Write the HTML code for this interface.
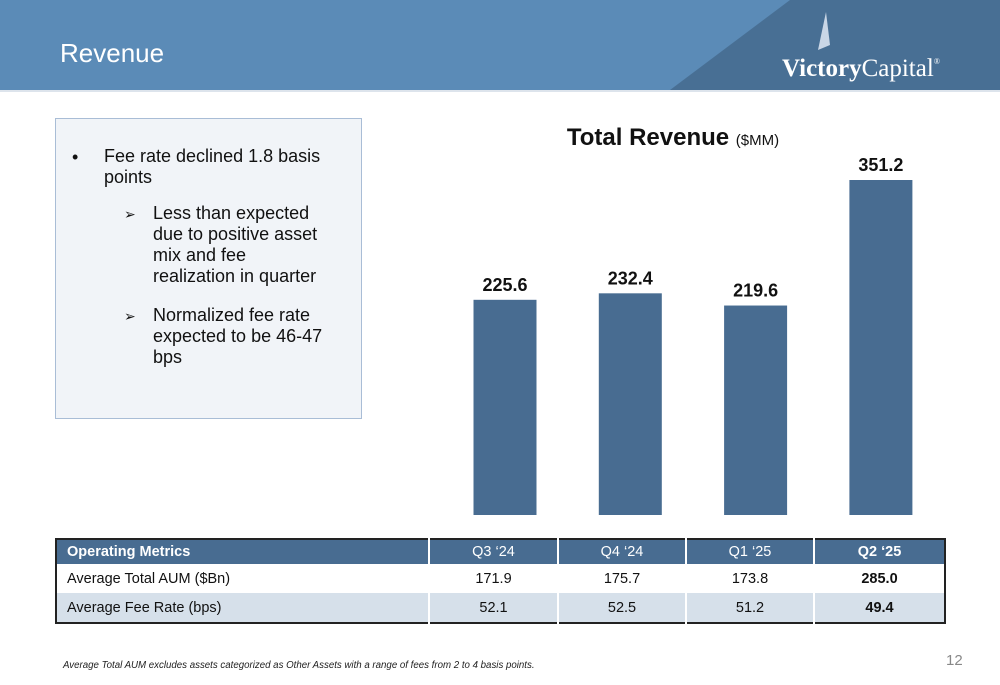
<!DOCTYPE html>
<html><head><meta charset="utf-8"><style>
body{margin:0;width:1000px;height:685px;position:relative;background:#fff;font-family:"Liberation Sans",Arial,sans-serif;overflow:hidden}
.abs{position:absolute}
table{border-collapse:collapse;position:absolute;left:55px;top:538px;width:891px;border:2px solid #222;font-size:14.5px}
td{padding:0 10px;border-left:2px solid #fff;text-align:center;color:#111}
td:first-child{text-align:left;border-left:none}
tr.h td{background:#486c91;color:#fff;height:24px}
tr.r1 td,tr.r2 td{height:29px}
tr.r2 td{background:#d6e0ea}
</style></head><body>
<svg class="abs" style="left:0;top:0" width="1000" height="92">
<rect width="1000" height="90" fill="#5b8bb7"/>
<polygon points="790,0 1000,0 1000,90 670,90" fill="#486f94"/>
<rect y="90" width="1000" height="2" fill="#dde4ec"/>
<polygon points="826,12 818,50 830,45" fill="#c9d6e6"/>
<text x="60" y="62" font-size="26" fill="#fff" font-family="Liberation Sans">Revenue</text>
<text x="782" y="76" font-size="25" fill="#fff" font-family="Liberation Serif"><tspan font-weight="bold">Victory</tspan><tspan>Capital</tspan><tspan font-size="8" dy="-12">®</tspan></text>
</svg>
<div class="abs" style="left:55px;top:118px;width:305px;height:299px;background:#f1f4f8;border:1px solid #a9bdd6;font-size:18px;color:#111;line-height:21px">
<div class="abs" style="left:16px;top:28px">•</div>
<div class="abs" style="left:48px;top:27px;width:245px">Fee rate declined 1.8 basis points</div>
<div class="abs" style="left:68px;top:85px;font-size:14px">➢</div>
<div class="abs" style="left:97px;top:84px;width:180px">Less than expected due to positive asset mix and fee realization in quarter</div>
<div class="abs" style="left:68px;top:187px;font-size:14px">➢</div>
<div class="abs" style="left:97px;top:186px;width:190px">Normalized fee rate expected to be 46-47 bps</div>
</div>
<svg id="chart" class="abs" style="left:0;top:0" width="1000" height="530">
<text x="673" y="145" text-anchor="middle" font-size="24" font-weight="bold" fill="#111">Total Revenue <tspan font-size="15" font-weight="normal">($MM)</tspan></text>
</svg>
<script>
const categories=["Q3 '24","Q4 '24","Q1 '25","Q2 '25"];
const revenue=[225.6,232.4,219.6,351.2];
const svg=document.getElementById('chart');
const base=515,scale=335/351.2;
const xc=i=>505+i*125.3;
const y=v=>base-v*scale;
revenue.forEach((v,i)=>{
const r=document.createElementNS('http://www.w3.org/2000/svg','rect');
r.setAttribute('x',xc(i)-31.5);r.setAttribute('y',y(v));r.setAttribute('width',63);r.setAttribute('height',base-y(v));r.setAttribute('fill','#486c91');


svg.appendChild(r);
const t=document.createElementNS('http://www.w3.org/2000/svg','text');
t.setAttribute('x',xc(i));t.setAttribute('y',y(v)-9);t.setAttribute('text-anchor','middle');t.setAttribute('font-size','18');t.setAttribute('font-weight','bold');t.setAttribute('fill','#111');
t.textContent=v.toFixed(1);


svg.appendChild(t);
});
</script>
<table>
<colgroup><col style="width:373px"><col style="width:129px"><col style="width:128px"><col style="width:128px"><col></colgroup>
<tr class="h"><td><b>Operating Metrics</b></td><td>Q3 ‘24</td><td>Q4 ‘24</td><td>Q1 ‘25</td><td><b>Q2 ‘25</b></td></tr>
<tr class="r1"><td>Average Total AUM ($Bn)</td><td>171.9</td><td>175.7</td><td>173.8</td><td><b>285.0</b></td></tr>
<tr class="r2"><td>Average Fee Rate (bps)</td><td>52.1</td><td>52.5</td><td>51.2</td><td><b>49.4</b></td></tr>
</table>
<div class="abs" style="left:63px;top:660px;font-size:9.7px;font-style:italic;color:#222">Average Total AUM excludes assets categorized as Other Assets with a range of fees from 2 to 4 basis points.</div>
<div class="abs" style="left:946px;top:652px;font-size:15px;color:#888">12</div>
</body></html>
